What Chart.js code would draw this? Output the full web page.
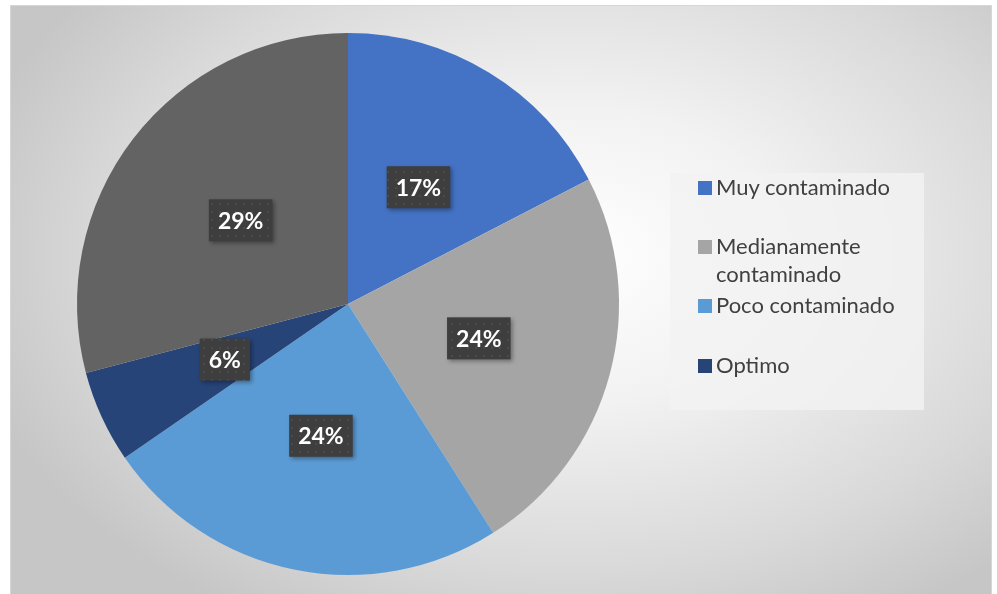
<!DOCTYPE html>
<html>
<head>
<meta charset="utf-8">
<script src="https://cdn.jsdelivr.net/npm/chart.js@4.4.1/dist/chart.umd.min.js"></script>
<style>
  html, body { margin: 0; padding: 0; background: #ffffff; }
  #wrap { position: relative; width: 997px; height: 594px; overflow: hidden; }
  #frame {
    position: absolute; left: 10px; top: 5px; width: 982px; height: 600px;
    border: 1px solid #d6d6d6; box-sizing: border-box;
    background: radial-gradient(ellipse 620px 420px at 560px 250px, #ffffff 0%, #f2f2f2 35%, #d9d9d9 75%, #c6c6c6 100%);
  }
  #c { position: absolute; left: 0; top: 0; }
  #legend {
    position: absolute; left: 670px; top: 173px; width: 254px; height: 237px;
    background: rgba(243,243,243,0.8);
    font-family: Lato, "Open Sans", sans-serif; font-size: 22px; color: #404040;
  }
  .item { position: absolute; left: 28px; width: 226px; line-height: 28px; }
  .sw { position: absolute; left: 0; top: 8px; width: 14px; height: 14px; }
  .txt { position: absolute; left: 18px; top: 0; white-space: nowrap; }
</style>
</head>
<body>
<div id="wrap">
  <div id="frame"></div>
  <canvas id="c" width="997" height="594"></canvas>
  <div id="legend"></div>
</div>
<script>
const categories = ["Muy contaminado", "Medianamente contaminado", "Poco contaminado", "Optimo", ""];
const legendLines = [["Muy contaminado"], ["Medianamente", "contaminado"], ["Poco contaminado"], ["Optimo"]];
const values = [17.4, 23.6, 24.4, 5.5, 29.1];
const colors = ["#4472C4", "#A5A5A5", "#5B9BD5", "#264478", "#636363"];

// dotted dark label background pattern
const pc = document.createElement('canvas');
pc.width = 8; pc.height = 8;
const px = pc.getContext('2d');
px.fillStyle = '#3e3e3e'; px.fillRect(0, 0, 8, 8);
px.fillStyle = '#4a4a4a'; px.fillRect(3, 3, 2, 2);

const labelPlugin = {
  id: 'boxLabels',
  afterDatasetsDraw(chart) {
    const ctx = chart.ctx;
    const meta = chart.getDatasetMeta(0);
    const total = values.reduce((a, b) => a + b, 0);
    const pattern = ctx.createPattern(pc, 'repeat');
    meta.data.forEach((arc, i) => {
      const p = arc.getCenterPoint();
      const txt = Math.round(values[i] / total * 100) + '%';
      ctx.save();
      ctx.font = 'bold 23px Lato, "Open Sans", sans-serif';
      const w = ctx.measureText(txt).width + 18;
      const h = 42;
      const x = p.x - w / 2, y = p.y - h / 2 - 1;
      ctx.shadowColor = 'rgba(0,0,0,0.35)';
      ctx.shadowBlur = 4; ctx.shadowOffsetX = 2; ctx.shadowOffsetY = 2;
      ctx.fillStyle = pattern;
      ctx.fillRect(x, y, w, h);
      ctx.shadowColor = 'transparent';
      ctx.fillStyle = '#ffffff';
      ctx.textAlign = 'center'; ctx.textBaseline = 'middle';
      ctx.fillText(txt, p.x, p.y);
      ctx.restore();
    });
  }
};

new Chart(document.getElementById('c'), {
  type: 'pie',
  data: {
    labels: categories,
    datasets: [{ data: values, backgroundColor: colors, borderWidth: 0 }]
  },
  options: {
    responsive: false,
    animation: false,
    layout: { padding: { left: 77, right: 378, top: 33, bottom: 19 } },
    plugins: { legend: { display: false }, tooltip: { enabled: false } }
  },
  plugins: [labelPlugin]
});

const lg = document.getElementById('legend');
const tops = [0, 59, 118, 178];
legendLines.forEach((lines, i) => {
  const it = document.createElement('div');
  it.className = 'item';
  it.style.top = tops[i] + 'px';
  const sw = document.createElement('div');
  sw.className = 'sw'; sw.style.background = colors[i];
  const t = document.createElement('div');
  t.className = 'txt';
  t.innerHTML = lines.join('<br>');
  it.appendChild(sw); it.appendChild(t);
  lg.appendChild(it);
});
</script>
</body>
</html>
